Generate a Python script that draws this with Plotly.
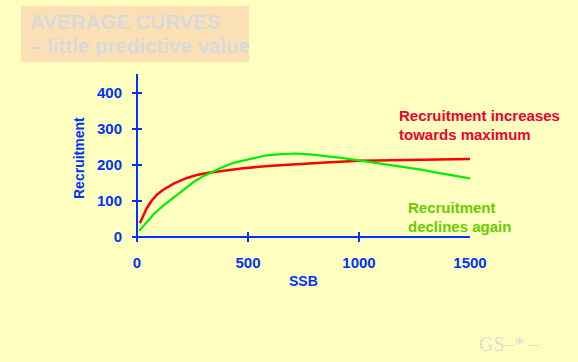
import plotly.graph_objects as go

# ---- data ----
ssb_red = [13, 25, 44, 65, 89, 115, 141, 165, 186, 225, 269, 329, 400, 479, 590, 704, 850, 1005, 1120, 1230, 1370, 1500]
rec_red = [38, 55, 80, 100, 117, 130, 140, 148, 154, 164, 172, 179, 185, 191, 197, 202, 207, 212, 213, 215, 216, 217]

ssb_green = [10, 40, 73, 110, 149, 186, 224, 260, 299, 335, 374, 434, 524, 584, 650, 719, 790, 854, 930, 1005, 1100, 1200, 1280, 1350, 1420, 1500]
rec_green = [17, 40, 62, 83, 102, 121, 139, 155, 169, 180, 191, 206, 219, 227, 230, 232, 229, 225, 219, 212, 204, 195, 187, 179, 171, 163]

x_ticks = [0, 500, 1000, 1500]
y_ticks = [0, 100, 200, 300, 400]

BLUE = "#0033FF"
BG = "#FFFFC0"
W, H = 578, 362
L, R, T, B = 132, 470, 74, 242  # plot area in pixels


def px(x, y):
    return (x - L) / (R - L), (B - y) / (B - T)


fig = go.Figure()
fig.add_trace(go.Scatter(x=ssb_red, y=rec_red, mode="lines",
                         line=dict(color="#FF0000", width=2.5), showlegend=False))
fig.add_trace(go.Scatter(x=ssb_green, y=rec_green, mode="lines",
                         line=dict(color="#00EE00", width=2.2), showlegend=False))

tickfont = dict(family="Liberation Sans, Arial, sans-serif", size=15, color=BLUE, weight="bold")

fig.update_layout(
    width=W, height=H, autosize=False,
    margin=dict(l=L, r=W - R, t=T, b=H - B),
    paper_bgcolor=BG, plot_bgcolor=BG,
    xaxis=dict(range=[-22.5, 1500], tickvals=x_ticks, ticks="inside", ticklen=10,
               tickwidth=1.5, tickcolor=BLUE, showgrid=False, showline=False,
               zeroline=True, zerolinecolor=BLUE, zerolinewidth=1.5,
               tickfont=tickfont, ticklabelstandoff=10),
    yaxis=dict(range=[-13.9, 452.8], tickvals=y_ticks, ticks="inside", ticklen=10,
               tickwidth=1.5, tickcolor=BLUE, showgrid=False, showline=False,
               zeroline=True, zerolinecolor=BLUE, zerolinewidth=1.5,
               tickfont=tickfont, ticklabelstandoff=9),
)

# axis titles
ax_font = dict(family="Liberation Sans, Arial, sans-serif", size=14, color=BLUE, weight="bold")
x0, y0 = px(303, 281)
fig.add_annotation(text="SSB", x=x0, y=y0, xref="paper", yref="paper",
                   showarrow=False, font=ax_font, xanchor="center", yanchor="middle")
x0, y0 = px(79, 158)
fig.add_annotation(text="Recruitment", x=x0, y=y0, xref="paper", yref="paper",
                   showarrow=False, font=ax_font, textangle=-90, xanchor="center", yanchor="middle")

# title box
bx0, by0 = px(21, 62)
bx1, by1 = px(249, 6)
fig.add_shape(type="rect", xref="paper", yref="paper", x0=bx0, y0=by0, x1=bx1, y1=by1,
              fillcolor="#FBE0B6", line=dict(width=0), layer="below")
tfont = dict(family="Liberation Sans, Arial, sans-serif", size=20.5, color="#D9D9D9", weight="bold")
x0, y0 = px(28, 21)
fig.add_annotation(text="AVERAGE CURVES", x=x0, y=y0, xref="paper", yref="paper",
                   showarrow=False, font=tfont, xanchor="left", yanchor="middle")
x0, y0 = px(28, 46)
fig.add_annotation(text="– little predictive value", x=x0, y=y0, xref="paper", yref="paper",
                   showarrow=False, font=tfont, xanchor="left", yanchor="middle")

# curve annotations
rfont = dict(family="Liberation Sans, Arial, sans-serif", size=15, color="#F00030", weight="bold")
for txt, yy in [("Recruitment increases", 115), ("towards maximum", 134)]:
    x0, y0 = px(397, yy)
    fig.add_annotation(text=txt, x=x0, y=y0, xref="paper", yref="paper",
                       showarrow=False, font=rfont, xanchor="left", yanchor="middle")
gfont = dict(family="Liberation Sans, Arial, sans-serif", size=15, color="#66CC00", weight="bold")
for txt, yy in [("Recruitment", 207), ("declines again", 226)]:
    x0, y0 = px(406, yy)
    fig.add_annotation(text=txt, x=x0, y=y0, xref="paper", yref="paper",
                       showarrow=False, font=gfont, xanchor="left", yanchor="middle")

# footer mark
x0, y0 = px(477, 344)
fig.add_annotation(text="GS–* –", x=x0, y=y0, xref="paper", yref="paper",
                   showarrow=False, xanchor="left", yanchor="middle",
                   font=dict(family="Liberation Serif, Times New Roman, serif", size=20, color="#DCDCDC"))

fig.write_html("out.html", config={"displayModeBar": False},
               post_script="document.body.style.margin='0';document.body.style.background='#FFFFC0';")
